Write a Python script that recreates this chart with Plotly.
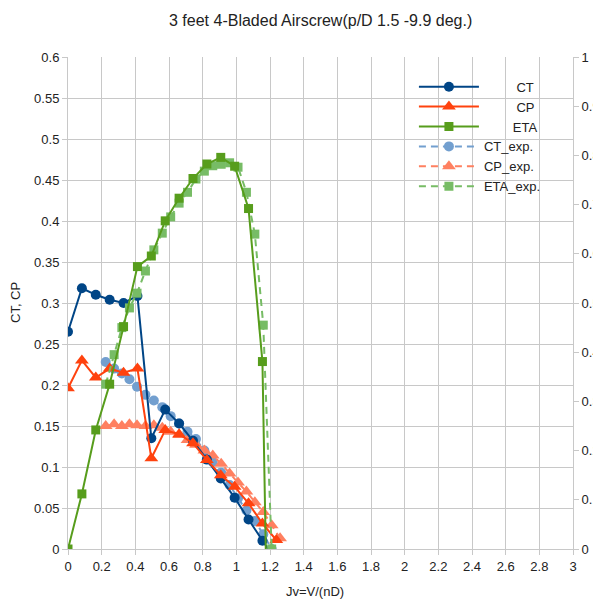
import plotly.graph_objects as go

# Calculated series
jv = [0, 0.0825, 0.165, 0.2475, 0.33, 0.4125, 0.495, 0.5775, 0.66, 0.7425,
      0.825, 0.9075, 0.99, 1.0725, 1.155, 1.2375]
ct = [0.265, 0.318, 0.310, 0.304, 0.300, 0.3085, 0.135, 0.170, 0.153, 0.132,
      0.109, 0.086, 0.0626, 0.036, 0.010, -0.015]
cp = [0.196, 0.230, 0.209, 0.220, 0.215, 0.220, 0.1106, 0.145, 0.140, 0.129,
      0.1085, 0.090, 0.076, 0.0557, 0.031, 0.011]
eta = [0, 0.112, 0.242, 0.335, 0.452, 0.574, 0.5955, 0.667, 0.713, 0.753,
       0.7825, 0.796, 0.778, 0.692, 0.381, -1.2]

# Experimental series
jv_exp = [0.224, 0.274, 0.32, 0.365, 0.41, 0.46, 0.51, 0.56, 0.61, 0.66, 0.71,
          0.76, 0.81, 0.86, 0.91, 0.96, 1.01, 1.06, 1.11, 1.16, 1.21, 1.26]
ct_exp = [0.228, 0.220, 0.214, 0.207, 0.198, 0.188, 0.181, 0.173, 0.162, 0.153,
          0.143, 0.134, 0.120, 0.106, 0.093, 0.078, 0.062, 0.047, 0.034, 0.018,
          0.000, -0.02]
cp_exp = [0.150, 0.152, 0.150, 0.152, 0.151, 0.150, 0.151, 0.148, 0.143, 0.139,
          0.133, 0.127, 0.120, 0.114, 0.104, 0.092, 0.081, 0.070, 0.057, 0.045,
          0.029, 0.013]
eta_exp = [0.335, 0.395, 0.45, 0.49, 0.52, 0.565, 0.608, 0.642, 0.675, 0.703,
           0.725, 0.752, 0.768, 0.779, 0.782, 0.785, 0.776, 0.725, 0.64, 0.455,
           0.0, -0.8]

C_CT, C_CP, C_ETA = "#004586", "#ff420e", "#579d1c"
C_CTE, C_CPE, C_ETAE = "#729fcf", "#ff8060", "#77bc65"

NB = "\u00a0"

fig = go.Figure()
dash = "7px,5px"
fig.add_trace(go.Scatter(x=jv_exp, y=ct_exp, name="CT_exp.", mode="lines+markers",
                         line=dict(color=C_CTE, width=2, dash=dash),
                         marker=dict(symbol="circle", size=10, color=C_CTE), legendrank=4))
fig.add_trace(go.Scatter(x=jv_exp, y=cp_exp, name="CP_exp.", mode="lines+markers",
                         line=dict(color=C_CPE, width=2, dash=dash),
                         marker=dict(symbol="triangle-up", size=12, color=C_CPE), legendrank=5))
fig.add_trace(go.Scatter(x=jv, y=ct, name=NB * 9 + "CT", mode="lines+markers",
                         line=dict(color=C_CT, width=2),
                         marker=dict(symbol="circle", size=10, color=C_CT), legendrank=1))
fig.add_trace(go.Scatter(x=jv, y=cp, name=NB * 9 + "CP", mode="lines+markers",
                         line=dict(color=C_CP, width=2),
                         marker=dict(symbol="triangle-up", size=12, color=C_CP), legendrank=2))
fig.add_trace(go.Scatter(x=jv_exp, y=eta_exp, name="ETA_exp.", mode="lines+markers", yaxis="y2",
                         line=dict(color=C_ETAE, width=2, dash=dash),
                         marker=dict(symbol="square", size=9, color=C_ETAE), legendrank=6))
fig.add_trace(go.Scatter(x=jv, y=eta, name=NB * 8 + "ETA", mode="lines+markers", yaxis="y2",
                         line=dict(color=C_ETA, width=2),
                         marker=dict(symbol="square", size=9, color=C_ETA), legendrank=3))

grid = "#c8c8c8"
tickfont = dict(family="Liberation Sans, Arial, sans-serif", size=13, color="#222")
fig.update_layout(
    width=593, height=602, template="none",
    margin=dict(l=68, r=20, t=57, b=53),
    paper_bgcolor="white", plot_bgcolor="white",
    font=dict(family="Liberation Sans, Arial, sans-serif", size=13, color="#222"),
    showlegend=True,
    legend=dict(x=0.685, y=0.97, xanchor="left", yanchor="top",
                bgcolor="rgba(0,0,0,0)", font=dict(size=13), tracegroupgap=0,
                itemwidth=60),
    xaxis=dict(range=[0, 3], dtick=0.2, tick0=0, showgrid=True, gridcolor=grid,
               showline=True, linecolor=grid, ticks="outside", ticklen=5, tickcolor=grid,
               zeroline=False, automargin=False, tickfont=tickfont),
    yaxis=dict(range=[0, 0.6], dtick=0.05, tick0=0, showgrid=True, gridcolor=grid,
               showline=True, linecolor=grid, ticks="outside", ticklen=5, tickcolor=grid,
               zeroline=False, automargin=False, tickfont=tickfont),
    yaxis2=dict(range=[0, 1], dtick=0.1, tick0=0, overlaying="y", side="right",
                showgrid=False, showline=True, linecolor=grid, ticks="outside",
                ticklen=5, tickcolor=grid, zeroline=False, automargin=False,
                tickfont=tickfont),
    annotations=[
        dict(text="3 feet 4-Bladed Airscrew(p/D 1.5 -9.9 deg.)", xref="paper", yref="paper",
             x=0.5, y=1, yshift=37, xanchor="center", yanchor="middle", showarrow=False,
             font=dict(size=16)),
        dict(text="Jv=V/(nD)", xref="paper", yref="paper", x=0.49, y=0, yshift=-42,
             xanchor="center", yanchor="middle", showarrow=False, font=dict(size=13)),
        dict(text="CT, CP", xref="paper", yref="paper", x=0, xshift=-53, y=0.5,
             xanchor="center", yanchor="middle", showarrow=False, textangle=-90,
             font=dict(size=13)),
    ],
)

fig.write_html("out.html")
